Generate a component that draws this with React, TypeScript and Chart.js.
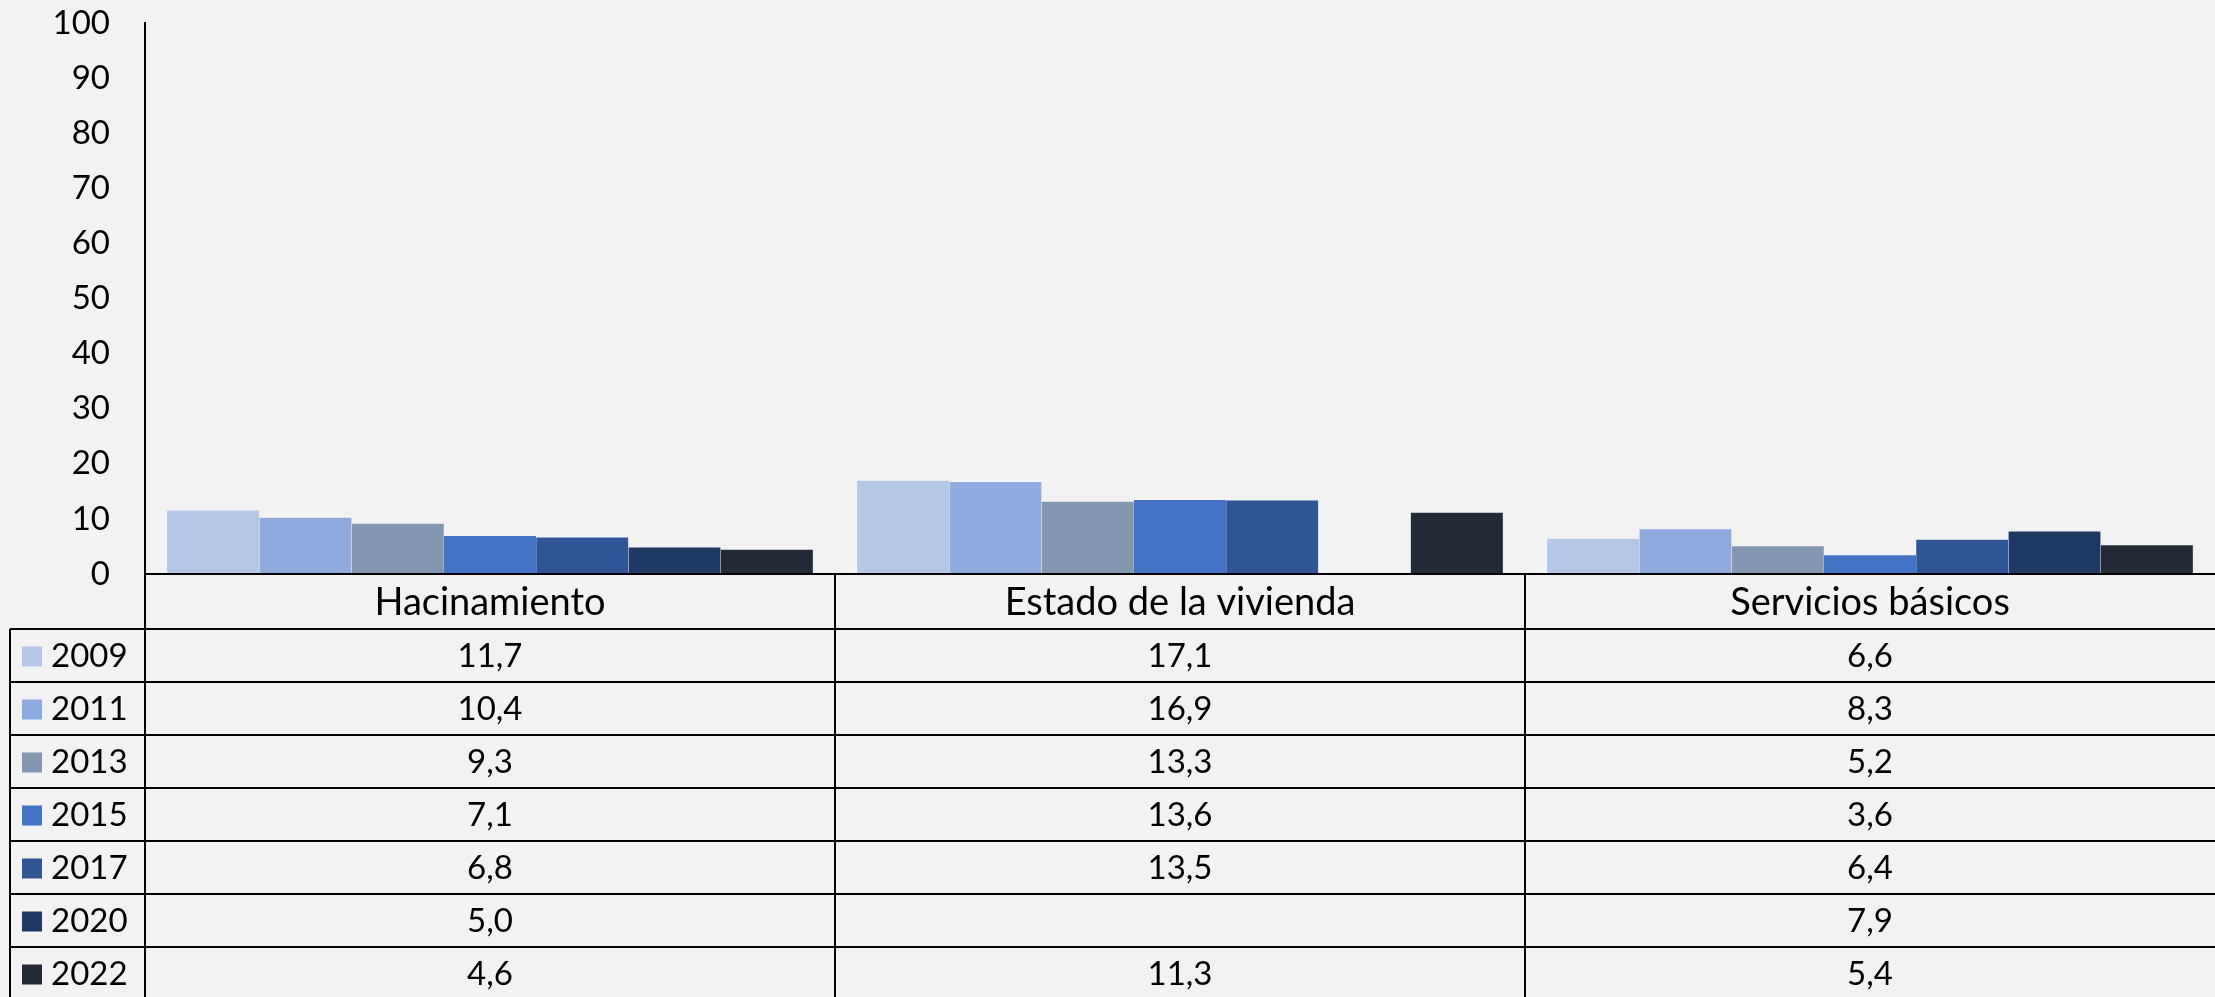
import { useEffect, useRef } from "react";
import { Chart, registerables } from "chart.js";

Chart.register(...registerables);

const categories = ["Hacinamiento", "Estado de la vivienda", "Servicios básicos"];
const years = ["2009", "2011", "2013", "2015", "2017", "2020", "2022"];
const v2009 = [11.7, 17.1, 6.6];
const v2011 = [10.4, 16.9, 8.3];
const v2013 = [9.3, 13.3, 5.2];
const v2015 = [7.1, 13.6, 3.6];
const v2017 = [6.8, 13.5, 6.4];
const v2020 = [5.0, null, 7.9];
const v2022 = [4.6, 11.3, 5.4];
const seriesValues = [v2009, v2011, v2013, v2015, v2017, v2020, v2022];
const colors = ["#B4C7E7", "#8FAADC", "#8497B0", "#4472C4", "#2F5597", "#203864", "#222A35"];
const yTickValues = [0, 10, 20, 30, 40, 50, 60, 70, 80, 90, 100];

const FONT = "Lato, 'Open Sans', sans-serif";
const W = 2215;
const H = 997;

const fmt = (v: number | null) => (v === null || v === undefined ? "" : v.toFixed(1).replace(".", ","));

const tablePlugin = {
  id: "dataTable",
  afterDraw(chart: any) {
    const ctx = chart.ctx as CanvasRenderingContext2D;
    const ca = chart.chartArea;
    const xs = chart.scales.x;
    const catW = (ca.right - ca.left) / categories.length;
    const headerH = 55;
    const rowH = 53;
    const legendLeft = 10;
    const top = ca.bottom;
    const rowsTop = top + headerH;
    ctx.save();
    ctx.strokeStyle = "#000";
    ctx.lineWidth = 2;
    ctx.beginPath();
    ctx.moveTo(ca.left, top);
    ctx.lineTo(W, top);
    ctx.stroke();
    ctx.beginPath();
    ctx.moveTo(ca.left, top);
    ctx.lineTo(ca.left, H + 5);
    ctx.stroke();
    for (let i = 1; i < categories.length; i++) {
      const x = xs.getPixelForValue(i) - catW / 2;
      ctx.beginPath();
      ctx.moveTo(x, top);
      ctx.lineTo(x, H + 5);
      ctx.stroke();
    }
    ctx.beginPath();
    ctx.moveTo(legendLeft, rowsTop);
    ctx.lineTo(legendLeft, H + 5);
    ctx.stroke();
    for (let r = 0; r <= years.length; r++) {
      const y = rowsTop + r * rowH;
      ctx.beginPath();
      ctx.moveTo(legendLeft, y);
      ctx.lineTo(W, y);
      ctx.stroke();
    }
    ctx.fillStyle = "#000";
    ctx.textAlign = "center";
    ctx.textBaseline = "middle";
    ctx.font = `38px ${FONT}`;
    categories.forEach((c, i) => {
      ctx.fillText(c, xs.getPixelForValue(i), top + headerH / 2 + 1);
    });
    years.forEach((yr, r) => {
      const cy = rowsTop + r * rowH + rowH / 2 + 1;
      ctx.fillStyle = colors[r];
      ctx.fillRect(22, cy - 10, 20, 20);
      ctx.fillStyle = "#000";
      ctx.textAlign = "left";
      ctx.font = `33px ${FONT}`;
      ctx.fillText(yr, 51, cy);
      ctx.textAlign = "center";
      seriesValues[r].forEach((v, i) => {
        ctx.fillText(fmt(v as number | null), xs.getPixelForValue(i), cy);
      });
    });
    ctx.restore();
  },
};

export default function App() {
  const ref = useRef<HTMLCanvasElement | null>(null);
  useEffect(() => {
    if (!ref.current) return;
    const chart = new Chart(ref.current, {
      type: "bar",
      data: {
        labels: categories,
        datasets: years.map((yr, i) => ({
          label: yr,
          data: seriesValues[i],
          backgroundColor: colors[i],
          borderColor: "rgba(255,255,255,0.45)",
          borderWidth: { top: 1, left: 0, right: 0, bottom: 0 },
          borderSkipped: "start",
          categoryPercentage: 0.936,
          barPercentage: 1,
        })),
      },
      options: {
        responsive: false,
        animation: false,
        layout: { padding: { top: 23, bottom: H - 574, left: 0, right: -4 } },
        plugins: { legend: { display: false }, tooltip: { enabled: false } },
        scales: {
          x: { display: false },
          y: {
            min: 0,
            max: 100,
            afterBuildTicks: (scale: any) => {
              scale.ticks = yTickValues.map((v) => ({ value: v }));
            },
            afterFit: (scale: any) => {
              scale.width = 145;
              scale.paddingTop = 0;
              scale.paddingBottom = 0;
            },
            grid: { display: false, drawTicks: false },
            border: { display: true, color: "#000", width: 2 },
            ticks: {
              padding: 35,
              color: "#000",
              font: { family: FONT, size: 33 },
            },
          },
        },
      },
      plugins: [tablePlugin],
    });
    return () => chart.destroy();
  }, []);
  return (
    <div style={{ position: "fixed", left: 0, top: 0, width: W, height: H, background: "#F2F2F2" }}>
      <canvas ref={ref} width={W} height={H} style={{ width: W, height: H, display: "block" }} />
    </div>
  );
}
